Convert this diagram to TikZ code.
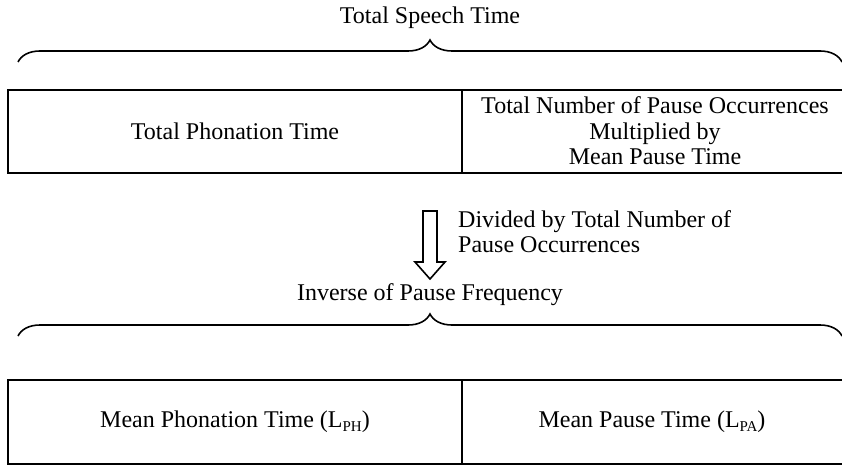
\documentclass[tikz,border=0pt]{standalone}
\usepackage{fontspec}
\setmainfont{Liberation Serif}
\usetikzlibrary{decorations.pathreplacing}
\newcommand{\subs}[1]{\raisebox{-0.3ex}{\fontsize{15}{15}\selectfont #1}}
\begin{document}
\begin{tikzpicture}[x=1pt,y=-1pt,
  txt/.style={font=\fontsize{24}{25.5}\selectfont, inner sep=0pt, align=center},
  cell/.style={draw, line width=2pt},
  bracestyle/.style={decorate, decoration={brace, amplitude=22pt}, line width=1.6pt},
  bigarrow/.style={draw, line width=1.6pt, fill=white, line join=miter}]
\useasboundingbox (0,0) rectangle (842,468);
% title
\node[txt, anchor=base] (title) at (430,24) {Total Speech Time};
\coordinate (b1l) at (18,62);
\coordinate (b1r) at (842,62);
\draw[bracestyle] (b1l) -- (b1r);
% top box
\draw[cell] (8,90) rectangle (843,173);
\draw[cell] (462,90) -- (462,173);
\node[txt] (tpt) at (235,131) {Total Phonation Time};
\node[txt] (tnp) at (655,131) {Total Number of Pause Occurrences\\Multiplied by\\Mean Pause Time};
% arrow
\draw[bigarrow] (423,211) -- (437,211) -- (437,262) -- (445,262) -- (430,279) -- (415,262) -- (423,262) -- cycle;
\node[txt, anchor=base west, align=left] (div) at (458,227) {Divided by Total Number of};
\node[txt, anchor=base west, align=left] (pau) at (458,252) {Pause Occurrences};
% inverse
\node[txt, anchor=base] (inv) at (430,300) {Inverse of Pause Frequency};
\coordinate (b2l) at (18,336);
\coordinate (b2r) at (842,336);
\draw[bracestyle] (b2l) -- (b2r);
% bottom box
\draw[cell] (8,380) rectangle (843,464);
\draw[cell] (462,380) -- (462,464);
\node[txt] (mpt) at (235,422) {Mean Phonation Time (L\subs{PH})};
\node[txt] (mpa) at (652,422) {Mean Pause Time (L\subs{PA})};
\end{tikzpicture}
\end{document}
